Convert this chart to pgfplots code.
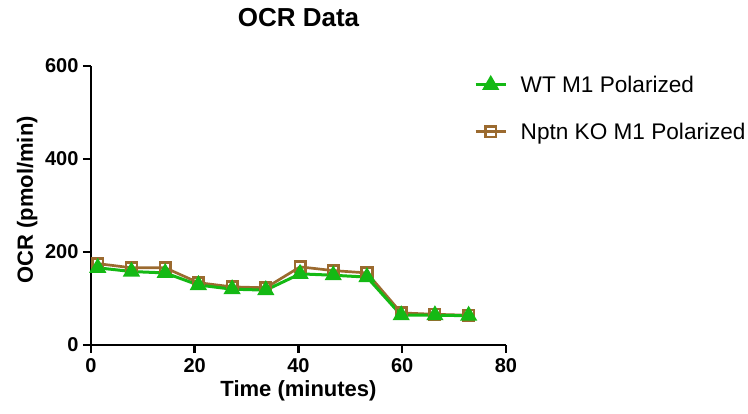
\documentclass[border=0pt]{standalone}
\usepackage{pgfplots}
\pgfplotsset{compat=1.18}
\usepackage{fontspec}
\setmainfont{Liberation Sans}
\definecolor{wtgreen}{RGB}{20,185,20}
\definecolor{kobrown}{RGB}{155,106,47}
\begin{document}
\begin{tikzpicture}
\path[use as bounding box] (0,0) rectangle (748pt,414pt);
\begin{axis}[
  at={(91pt,69pt)}, anchor=south west,
  scale only axis, width=415pt, height=279pt,
  xmin=0, xmax=80, ymin=0, ymax=600,
  axis lines=left,
  axis line style={-, line width=2.5pt, black},
  xtick={0,20,40,60,80}, ytick={0,200,400,600},
  tick align=outside, major tick length=8pt,
  tick style={line width=2.5pt, black},
  clip=false,
  /pgf/number format/assume math mode=true,
  ticklabel style={font=\bfseries\fontsize{20}{24}\selectfont},
  xticklabel style={yshift=-2pt},
  yticklabel style={xshift=-1pt},
  title={OCR Data},
  title style={at={(axis description cs:0.5,1)}, anchor=base, yshift=33pt, inner sep=0pt, font=\bfseries\fontsize{26}{30}\selectfont},
  xlabel={Time (minutes)},
  xlabel style={at={(axis description cs:0.5,0)}, anchor=base, yshift=-52pt, inner sep=0pt, font=\bfseries\fontsize{22}{26}\selectfont},
  ylabel={OCR (pmol/min)},
  ylabel style={at={(axis description cs:-0.1398,0.52)}, anchor=base, inner sep=0pt, font=\bfseries\fontsize{22}{26}\selectfont},
  legend image code/.code={\draw[mark repeat=2,mark phase=2] plot coordinates {(0pt,0pt) (15pt,0pt) (30pt,0pt)};\path[draw=none,fill=none] (30pt,0pt) -- (43pt,0pt);},
  reverse legend,
  legend cell align=left,
  legend style={at={(axis description cs:0.923,0.972)}, anchor=north west, draw=none, fill=none,
    font=\fontsize{22.6}{26}\selectfont, row sep=25pt, inner sep=0pt,
    nodes={inner sep=2pt}},
]
\addplot[kobrown, line width=2.7pt, mark=square, mark size=5.3pt, mark options={line width=2.5pt, solid}]
coordinates {(1.3,175) (7.8,166) (14.3,166) (20.7,134) (27.2,125) (33.7,123) (40.3,168) (46.7,160) (53.2,155) (59.8,69) (66.3,66) (72.8,64)};
\addlegendentry{Nptn KO M1 Polarized}
\addplot[wtgreen, line width=3pt, mark=triangle*, mark size=7pt, mark options={solid}]
coordinates {(1.3,166) (7.8,158) (14.3,155) (20.7,129) (27.2,120) (33.7,118) (40.3,153) (46.7,150) (53.2,146) (59.8,64) (66.3,64) (72.8,63)};
\addlegendentry{WT M1 Polarized}
\end{axis}
\end{tikzpicture}
\end{document}
